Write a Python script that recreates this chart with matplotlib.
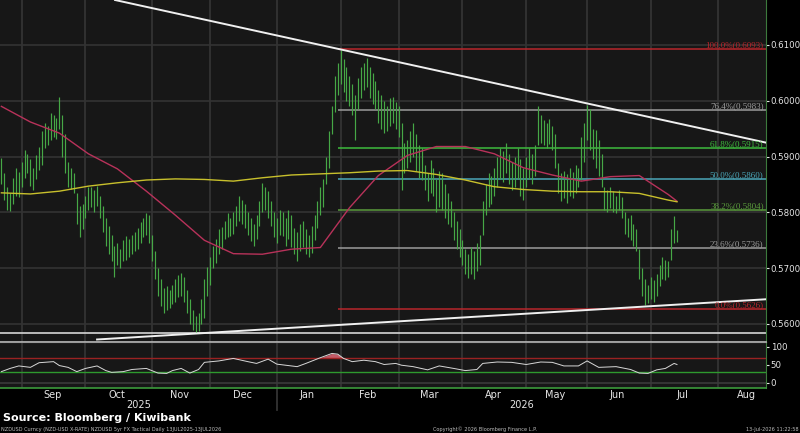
import matplotlib
matplotlib.use("Agg")
import matplotlib.pyplot as plt
import matplotlib.transforms as mtransforms
import numpy as np
import pandas as pd

# daily bar ranges, NZDUSD, first bar 21 Aug 2025
highs = [
    .5897, .5870, .5845, .5835, .5862, .5880, .5872,
    .5890, .5912, .5905, .5895, .5880, .5902, .5918,
    .5945, .5960, .5955, .5978, .5975, .5970, .6007,
    .5975, .5940, .5890, .5880, .5870, .5835, .5812, .5815,
    .5830, .5845, .5846, .5840, .5848, .5830,
    .5812, .5790, .5775, .5760, .5740,
    .5745, .5735, .5750, .5758, .5752, .5760,
    .5765, .5772, .5782, .5790, .5799, .5795,
    .5760, .5730, .5700, .5680, .5665, .5668,
    .5660, .5670, .5680, .5688, .5691, .5685, .5660, .5645,
    .5625, .5615, .5620, .5645,
    .5680, .5702, .5720,
    .5740, .5752, .5770, .5774,
    .5785, .5799, .5790, .5800,
    .5812, .5830, .5822, .5815,
    .5800, .5790, .5780, .5795,
    .5820, .5852, .5845, .5838,
    .5820, .5800, .5790, .5805,
    .5800, .5790, .5805, .5795,
    .5772, .5765, .5780, .5785, .5770, .5760, .5775,
    .5795, .5820, .5845, .5860,
    .5900, .5945,
    .5990, .6045, .6068, .6091,
    .6075, .6060, .6045, .6030, .6010,
    .6040, .6060, .6068, .6077, .6060,
    .6050, .6035, .6020, .6010, .6000, .5990, .6005,
    .6007, .5998, .5990, .5960,
    .5925, .5930, .5945, .5960, .5940, .5920, .5915,
    .5885, .5870, .5894, .5880, .5860, .5875, .5870, .5850, .5835, .5820,
    .5800, .5785, .5770, .5750, .5735, .5725, .5738, .5730, .5745, .5760,
    .5820, .5850, .5871, .5865,
    .5880, .5900, .5915, .5910, .5924, .5905, .5890, .5900, .5915, .5895,
    .5880, .5900, .5915, .5905, .5920,
    .5991, .5975, .5965, .5960, .5968, .5955, .5940,
    .5889, .5870, .5875, .5868, .5880, .5872, .5885, .5880,
    .5935, .5960, .5992, .5985, .5950,
    .5948, .5930, .5905,
    .5846, .5840, .5845, .5838, .5830, .5840, .5828,
    .5800, .5790, .5795, .5780, .5770,
    .5735, .5700, .5680,
    .5670, .5684, .5678, .5690,
    .5705, .5720, .5715, .5712,
    .5770, .5793, .5768,
]
lows = [
    .5850, .5822, .5805, .5803, .5815, .5830, .5828,
    .5845, .5862, .5870, .5848, .5840, .5860, .5876,
    .5885, .5915, .5920, .5930, .5935, .5932, .5950,
    .5900, .5870, .5845, .5842, .5835, .5780, .5756, .5770,
    .5790, .5805, .5810, .5800, .5812, .5790,
    .5765, .5740, .5725, .5712, .5684,
    .5705, .5700, .5712, .5715, .5720, .5725,
    .5730, .5735, .5745, .5755, .5760, .5745,
    .5712, .5680, .5650, .5632, .5620, .5625,
    .5628, .5635, .5640, .5648, .5650, .5640, .5620, .5600,
    .5590, .5584, .5588, .5600,
    .5610, .5650, .5670,
    .5700, .5710, .5725, .5735,
    .5752, .5755, .5758, .5762,
    .5775, .5785, .5780, .5772,
    .5760, .5748, .5740, .5752,
    .5775, .5800, .5805, .5790,
    .5775, .5755, .5745, .5760,
    .5758, .5740, .5752, .5738,
    .5725, .5712, .5730, .5738, .5725, .5720, .5728,
    .5750, .5772, .5795, .5810,
    .5850, .5880,
    .5940, .5980, .6010, .6030,
    .6015, .6000, .5990, .5975, .5930,
    .5985, .6005, .6020, .6025, .6005,
    .5995, .5985, .5960, .5950, .5942, .5945, .5955,
    .5960, .5950, .5935, .5840,
    .5870, .5880, .5890, .5900, .5875, .5862, .5858,
    .5840, .5820, .5835, .5830, .5800, .5810, .5805, .5790, .5780, .5774,
    .5750, .5735, .5720, .5705, .5690, .5682, .5690, .5680, .5695, .5705,
    .5760, .5795, .5810, .5815,
    .5830, .5845, .5860, .5855, .5870, .5850, .5840, .5845, .5860, .5830,
    .5822, .5845, .5860, .5850, .5865,
    .5920, .5925, .5920, .5915, .5922, .5912, .5880,
    .5835, .5820, .5825, .5817, .5830, .5825, .5835, .5846,
    .5858, .5890, .5930, .5912, .5895,
    .5880, .5865, .5846,
    .5805, .5800, .5808, .5800, .5799, .5805, .5790,
    .5762, .5755, .5750, .5740, .5730,
    .5680, .5650, .5634,
    .5638, .5645, .5640, .5650,
    .5668, .5680, .5678, .5685,
    .5715, .5745, .5747,
]

# moving averages, read every 10 bars
ma_idx = [0, 10, 20, 30, 40, 50, 60, 70, 80, 90, 100, 110, 120,
          130, 140, 150, 160, 170, 180, 190, 200, 210, 220, 230, 233]
ma50 = [.5990, .5962, .5942, .5905, .5878, .5838, .5795, .5750, .5726,
        .5725, .5734, .5737, .5808, .5866, .5902, .5918, .5918, .5905,
        .5880, .5867, .5856, .5864, .5866, .5832, .5820]
ma200 = [.5835, .5833, .5838, .5847, .5853, .5858, .5860, .5859, .5856,
         .5862, .5867, .5869, .5871, .5874, .5875, .5868, .5858, .5846,
         .5841, .5838, .5837, .5837, .5834, .5822, .5819]

# RSI readings (bar index, value)
rsi_idx = [0, 3, 6, 10, 13, 18, 20, 23, 26, 29, 33, 36, 38, 42, 45, 50, 54,
           57, 59, 62, 65, 68, 70, 75, 80, 85, 88, 92, 95, 98, 102, 105, 110,
           114, 116, 118, 121, 125, 129, 132, 136, 138, 142, 147, 151, 156,
           160, 164, 166, 171, 176, 181, 186, 190, 194, 199, 202, 206, 212,
           217, 220, 223, 226, 229, 232, 233]
rsi = [31, 40, 47, 43, 56, 59, 48, 43, 31, 40, 47, 34, 29, 31, 37, 40, 27,
       26, 34, 40, 27, 37, 57, 61, 68, 59, 54, 66, 52, 49, 45, 54, 70,
       82, 80, 68, 59, 63, 59, 51, 54, 49, 45, 36, 47, 40,
       34, 37, 54, 58, 57, 51, 58, 57, 47, 47, 61, 43, 45,
       37, 27, 26, 36, 40, 54, 51]

fib_pct = ["100.0%", "76.4%", "61.8%", "50.0%", "38.2%", "23.6%", "0.0%"]
fib_lvl = [0.6093, 0.5983, 0.5915, 0.5860, 0.5804, 0.5736, 0.5626]
fib_col = ["#b8262b", "#9c9c9c", "#3dbb3d", "#4aa6b8", "#5a9c3c", "#9c9c9c", "#b8262b"]

support = 0.5584
upper_trend = [(39.2, 0.61806), (263.7, 0.5925)]
lower_trend = [(33.0, 0.55722), (263.7, 0.56443)]

dates = pd.bdate_range("2025-08-21", "2026-08-31")
months = pd.Series(np.arange(len(dates)), index=dates)
grp = months.groupby([dates.year, dates.month])
m_first = grp.min().values[1:]
m_mid = ((grp.min() + grp.max()) / 2).values[1:]
m_names = [pd.Timestamp(y, m, 1).strftime("%b") for y, m in grp.min().index[1:]]
year_split = months[dates >= "2026-01-01"].iloc[0]

W, H = 800, 433
X0, X1 = -0.48, 263.7
fig = plt.figure(figsize=(8, 4.33), dpi=100, facecolor="black")
ax = fig.add_axes([0, 1 - 342 / H, 766 / W, 342 / H])
ax2 = fig.add_axes([0, 1 - 388 / H, 766 / W, 46 / H])
grid_c = "#333333"
for a in (ax, ax2):
    a.set_facecolor("#171717")
    a.set_xlim(X0, X1)
    for xb in m_first:
        a.axvline(xb, color=grid_c, lw=1.3, zorder=0)
    for s in a.spines.values():
        s.set_visible(False)
    a.yaxis.tick_right()
    a.tick_params(axis="y", colors="#e6e6e6", labelsize=6.2, length=2.5, width=0.8, pad=1)

# main panel
ax.set_ylim(0.55677, 0.61806)
ticks = np.arange(0.56, 0.6101, 0.01)
ax.set_yticks(ticks)
ax.set_yticklabels([f"{v:.4f}" for v in ticks])
for v in ticks:
    ax.axhline(v, color=grid_c, lw=1.2, zorder=0)
ax.set_xticks([])
ax.spines["right"].set_visible(True)
ax.spines["right"].set_color("#3c7a3c")
ax.spines["bottom"].set_visible(True)
ax.spines["bottom"].set_color("#bdbdbd")
ax.spines["bottom"].set_linewidth(1.2)

xb = np.arange(len(highs))
ax.vlines(xb, lows, highs, color="#46a846", lw=0.85, zorder=3)
ax.plot(ma_idx, ma50, color="#b8325a", lw=1.0, zorder=4)
ax.plot(ma_idx, ma200, color="#c8c02c", lw=1.0, zorder=4)

fib_start = int(np.argmax(highs)) - 1
for pct, lvl, col in zip(fib_pct, fib_lvl, fib_col):
    ax.hlines(lvl, fib_start, X1, color=col, lw=1.1, zorder=2)
    ax.text(X1 - 0.8, lvl, f"{pct}({lvl:.4f})", color=col, fontsize=6.5,
            family="Liberation Serif", ha="right", va="bottom", zorder=6)

ax.axhline(support, color="#d6d6d6", lw=1.2, zorder=2)
for seg in (upper_trend, lower_trend):
    ax.plot([p[0] for p in seg], [p[1] for p in seg], color="#f0f0f0", lw=1.4, zorder=5)

# RSI panel
ax2.set_ylim(-14.8, 114)
ax2.set_yticks([0, 50, 100])
ax2.axhline(0, color="#3a3a3a", lw=1.2, zorder=0)
ax2.axhline(70, color="#9a2222", lw=1.0)
ax2.axhline(30, color="#2e9a2e", lw=1.0)
r = np.array(rsi, dtype=float)
ax2.fill_between(rsi_idx, 70, r, where=r > 70, interpolate=True, color="#c25a66", lw=0)
ax2.plot(rsi_idx, rsi, color="#d8d8d8", lw=0.7)
ax2.spines["right"].set_visible(True)
ax2.spines["right"].set_color("#3c7a3c")
ax2.spines["bottom"].set_visible(True)
ax2.spines["bottom"].set_color("#3c9a3c")
ax2.spines["bottom"].set_linewidth(1.2)
ax2.spines["top"].set_visible(True)
ax2.spines["top"].set_color("#9a9a9a")
ax2.set_xticks(m_mid)
ax2.set_xticklabels(m_names)
ax2.tick_params(axis="x", colors="#e6e6e6", labelsize=7, length=0, pad=1.5)

trans = mtransforms.blended_transform_factory(ax2.transData, fig.transFigure)
ax2.text((X0 + year_split) / 2, 1 - 405 / H, "2025", transform=trans, color="#e6e6e6",
         fontsize=7, ha="center", va="center")
ax2.text((year_split + X1) / 2, 1 - 405 / H, "2026", transform=trans, color="#e6e6e6",
         fontsize=7, ha="center", va="center")
ax2.plot([year_split, year_split], [1 - 388 / H, 1 - 410 / H], transform=trans,
         color=grid_c, lw=1.3, clip_on=False)

fig.text(3 / W, 1 - 418 / H, "Source: Bloomberg / Kiwibank", color="white",
         fontsize=8, fontweight="bold", ha="left", va="center")
fig.text(1 / W, 1 - 429 / H, "NZDUSD Curncy (NZD-USD X-RATE) NZDUSD 5yr FX Tactical Daily 13JUL2025-13JUL2026",
         color="#bdbdbd", fontsize=3.6, ha="left", va="center")
fig.text(485 / W, 1 - 429 / H, "Copyright\u00a9 2026 Bloomberg Finance L.P.",
         color="#bdbdbd", fontsize=3.6, ha="center", va="center")
fig.text(799 / W, 1 - 429 / H, "13-Jul-2026 11:22:58",
         color="#bdbdbd", fontsize=3.6, ha="right", va="center")

fig.savefig("out.png", dpi=100, facecolor="black")
